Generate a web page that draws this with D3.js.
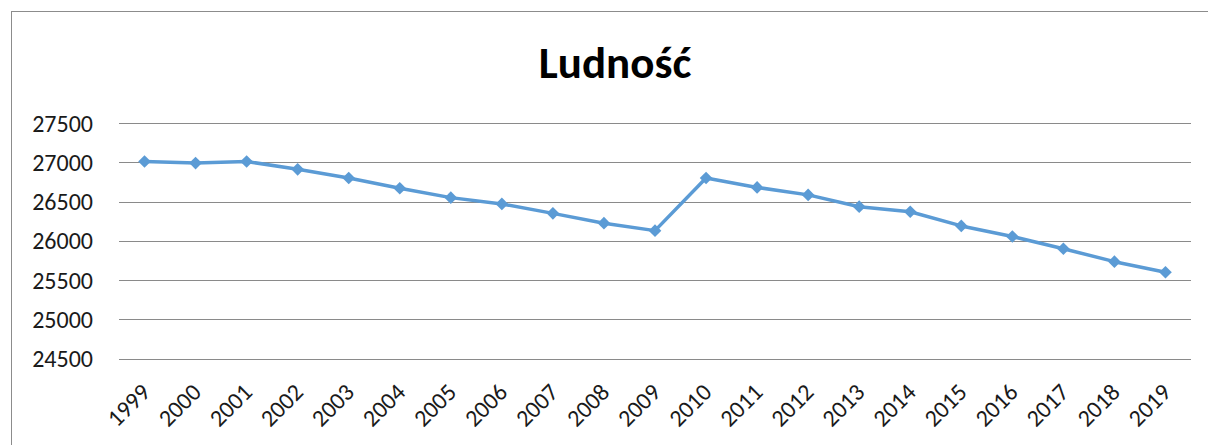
<!DOCTYPE html>
<html>
<head>
<meta charset="utf-8">
<script src="https://cdn.jsdelivr.net/npm/d3@7"></script>
<style>
  body { margin: 0; background: #fff; }
  svg { display: block; }
</style>
</head>
<body>
<svg id="chart"></svg>
<script>
const years = ["1999", "2000", "2001", "2002", "2003", "2004", "2005", "2006", "2007", "2008", "2009",
               "2010", "2011", "2012", "2013", "2014", "2015", "2016", "2017", "2018", "2019"]
const population = [27010, 26990, 27010, 26910, 26800, 26670, 26550, 26470, 26350, 26225, 26130,
                    26800, 26680, 26585, 26435, 26370, 26190, 26055, 25900, 25735, 25600]
const yTicks = [24500, 25000, 25500, 26000, 26500, 27000, 27500]
const title = "Ludność"

const width = 1208
const height = 445
const fontFamily = "Calibri, Carlito, Lato, 'Open Sans', sans-serif"

const plot = { left: 119, right: 1191, top: 123, bottom: 358.7 }

const svg = d3.select("#chart")
              .attr("width", width)
              .attr("height", height)
              .attr("font-family", fontFamily)

// outer chart border
svg.append("rect")
   .attr("x", 11.5).attr("y", 11.5)
   .attr("width", width).attr("height", height)
   .attr("fill", "none")
   .attr("stroke", "#8c8c8c")
   .attr("stroke-width", 1)

svg.append("text")
   .attr("x", 615).attr("y", 78)
   .attr("text-anchor", "middle")
   .attr("font-size", 45)
   .attr("font-weight", "bold")
   .attr("fill", "#000")
   .text(title)

const x = d3.scaleBand()
            .domain(years)
            .range([plot.left, plot.right])

const y = d3.scaleLinear()
            .domain([24500, 27500])
            .range([plot.bottom, plot.top])

// gridlines
svg.append("g")
   .selectAll("line")
   .data(yTicks)
   .join("line")
   .attr("x1", plot.left).attr("x2", plot.right)
   .attr("y1", d => Math.round(y(d)) + 0.5)
   .attr("y2", d => Math.round(y(d)) + 0.5)
   .attr("stroke", "#8a8a8a")
   .attr("stroke-width", 1)

// y labels
svg.append("g")
   .selectAll("text")
   .data(yTicks)
   .join("text")
   .attr("x", 93)
   .attr("y", d => y(d))
   .attr("dy", "0.36em")
   .attr("text-anchor", "end")
   .attr("font-size", 24)
   .attr("fill", "#1a1a1a")
   .text(d => d)

// x labels, rotated
svg.append("g")
   .selectAll("text")
   .data(years)
   .join("text")
   .attr("transform", d => `translate(${x(d) + x.bandwidth() / 2 + 7},${plot.bottom + 35}) rotate(-45)`)
   .attr("text-anchor", "end")
   .attr("font-size", 24)
   .attr("fill", "#1a1a1a")
   .text(d => d)

const cx = (d, i) => x(years[i]) + x.bandwidth() / 2

const line = d3.line()
               .x((d, i) => cx(d, i))
               .y(d => y(d))

svg.append("path")
   .datum(population)
   .attr("d", line)
   .attr("fill", "none")
   .attr("stroke", "#5b9bd5")
   .attr("stroke-width", 3.5)
   .attr("stroke-linejoin", "round")

const marker = d3.symbol().type(d3.symbolSquare).size(80)

svg.append("g")
   .selectAll("path")
   .data(population)
   .join("path")
   .attr("d", marker)
   .attr("transform", (d, i) => `translate(${cx(d, i)},${y(d)}) rotate(45)`)
   .attr("fill", "#5b9bd5")
</script>
</body>
</html>
